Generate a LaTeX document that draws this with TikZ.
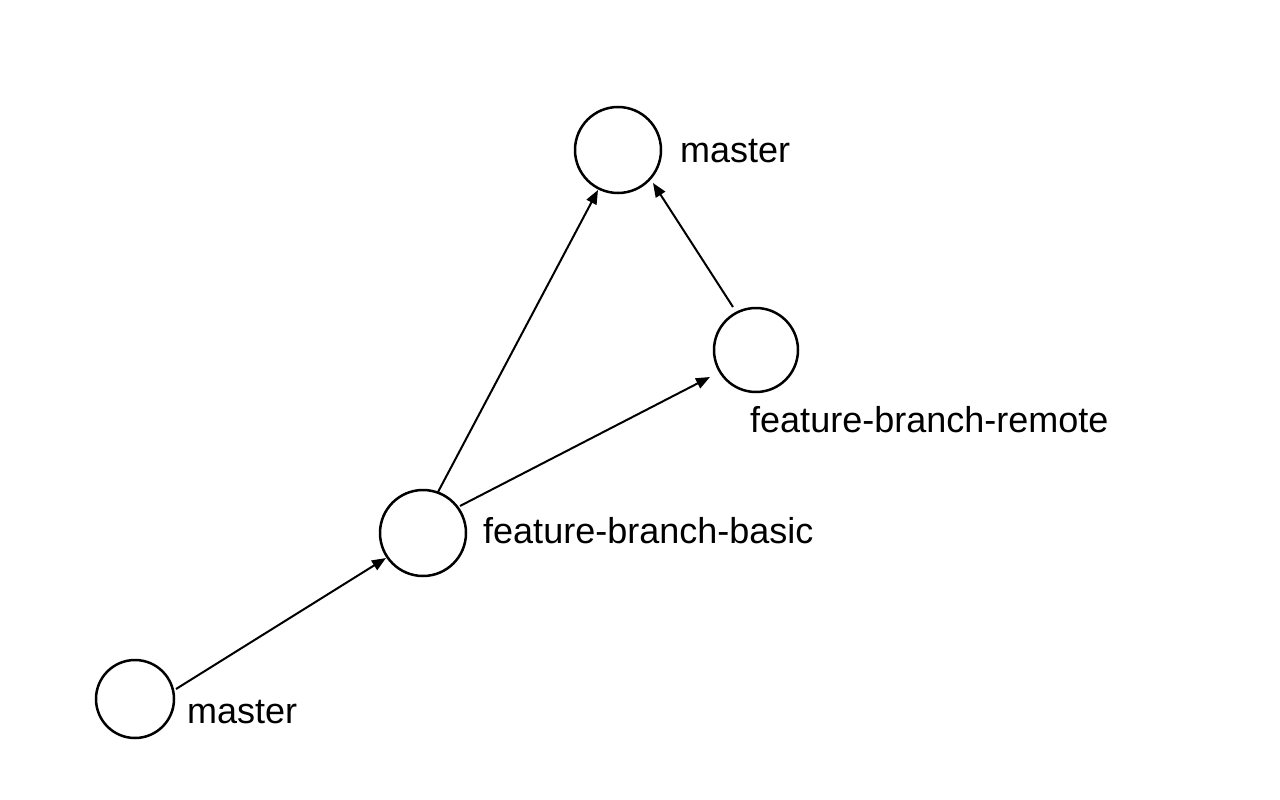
\documentclass[tikz,border=0pt]{standalone}
\usepackage{fontspec}
\setmainfont{Liberation Sans}
\usetikzlibrary{arrows.meta,calc}
\begin{document}
\begin{tikzpicture}[x=1pt,y=-1pt,
  commit/.style={circle,draw=black,line width=2.5pt,fill=white,inner sep=0pt},
  lbl/.style={anchor=base west,inner sep=0pt,font=\fontsize{36}{43}\selectfont},
  link/.style={line width=2pt,-{Triangle[length=14pt,width=11pt]}}]
  \useasboundingbox (0,0) rectangle (1280,800);
  % commits
  \node[commit,minimum size=86pt] (top) at (618,150) {};
  \node[commit,minimum size=84pt] (remote) at (756,350) {};
  \node[commit,minimum size=86pt] (basic) at (423,533) {};
  \node[commit,minimum size=78pt] (base) at (135,699) {};
  % branch names
  \node[lbl] (ltop) at (680,162) {master};
  \node[lbl] (lremote) at (750,432) {feature-branch-remote};
  \node[lbl] (lbasic) at (483,543) {feature-branch-basic};
  \node[lbl] (lbase) at (187,723) {master};
  % history
  \draw[link] ($(base)+(41,-10)$) -- ($(basic)+(-37,25)$);
  \draw[link] ($(basic)+(15,-41)$) -- ($(top)+(-20,40)$);
  \draw[link] ($(basic)+(37,-27)$) -- ($(remote)+(-46,27)$);
  \draw[link] ($(remote)+(-23,-43)$) -- ($(top)+(35,33)$);
\end{tikzpicture}
\end{document}
